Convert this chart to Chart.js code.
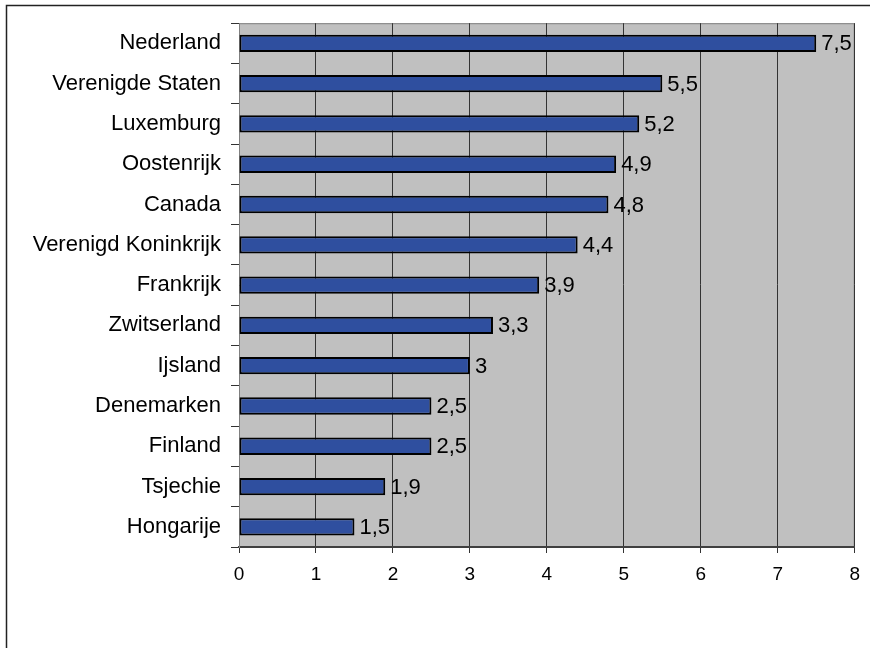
<!DOCTYPE html>
<html>
<head>
<meta charset="utf-8">
<script src="https://cdn.jsdelivr.net/npm/chart.js@4/dist/chart.umd.min.js"></script>
<style>
  html, body { margin: 0; padding: 0; background: #ffffff; }
  #wrap { width: 870px; height: 648px; }
</style>
</head>
<body>
<div id="wrap"><canvas id="c" width="870" height="648"></canvas></div>
<script>
const countries = ["Nederland", "Verenigde Staten", "Luxemburg", "Oostenrijk", "Canada",
  "Verenigd Koninkrijk", "Frankrijk", "Zwitserland", "Ijsland", "Denemarken",
  "Finland", "Tsjechie", "Hongarije"];
const values = [7.5, 5.5, 5.2, 4.9, 4.8, 4.4, 3.9, 3.3, 3, 2.5, 2.5, 1.9, 1.5];
const xTicks = [0, 1, 2, 3, 4, 5, 6, 7, 8];

const FONT = "'Liberation Sans', Arial, sans-serif";

// Grey plot background, outer frame and value labels
const decor = {
  id: 'decor',
  beforeDraw(chart) {
    const { ctx, chartArea: a } = chart;
    ctx.save();
    ctx.fillStyle = '#ffffff';
    ctx.fillRect(0, 0, chart.width, chart.height);
    ctx.fillStyle = '#c0c0c0';
    ctx.fillRect(a.left, a.top, a.right - a.left, a.bottom - a.top);
    ctx.strokeStyle = '#808080';
    ctx.lineWidth = 1;
    ctx.strokeRect(a.left + 0.5, a.top + 0.5, a.right - a.left - 1, a.bottom - a.top);
    // outer frame
    ctx.strokeStyle = '#222222';
    ctx.lineWidth = 1.5;
    ctx.strokeRect(6.5, 5.5, 900, 700);
    ctx.restore();
  },
  afterDatasetsDraw(chart) {
    const { ctx } = chart;
    const meta = chart.getDatasetMeta(0);
    ctx.save();
    ctx.font = '22px ' + FONT;
    ctx.fillStyle = '#000000';
    ctx.textAlign = 'left';
    ctx.textBaseline = 'middle';
    meta.data.forEach((bar, i) => {
      const label = String(values[i]).replace('.', ',');
      ctx.fillText(label, bar.x + 5, bar.y + 1);
    });
    ctx.restore();
  }
};

new Chart(document.getElementById('c'), {
  type: 'bar',
  data: {
    labels: countries,
    datasets: [{
      data: values,
      backgroundColor: '#2f4f9f',
      borderColor: '#000000',
      borderWidth: 2,
      borderSkipped: false,
      barPercentage: 0.86,
      categoryPercentage: 0.5
    }]
  },
  options: {
    indexAxis: 'y',
    responsive: false,
    animation: false,
    devicePixelRatio: 1,
    layout: { padding: { top: 23, right: 14, left: 0, bottom: 0 } },
    plugins: { legend: { display: false }, tooltip: { enabled: false } },
    scales: {
      x: {
        min: 0, max: 8,
        afterFit(s) { s.height = 101; },
        afterBuildTicks(s) { s.ticks = xTicks.map(v => ({ value: v })); },
        ticks: { color: '#000000', font: { family: FONT, size: 19 }, padding: 10, maxRotation: 0 },
        grid: { color: '#333333', lineWidth: 1, tickLength: 6, drawTicks: true },
        border: { color: '#404040', width: 2 }
      },
      y: {
        afterFit(s) { s.width = 239; },
        ticks: { color: '#000000', font: { family: FONT, size: 22 }, padding: 10, autoSkip: false },
        grid: { offset: true, drawOnChartArea: false, drawTicks: true, tickLength: 8, color: '#333333', lineWidth: 1 },
        border: { color: '#808080', width: 1 }
      }
    }
  },
  plugins: [decor]
});
</script>
</body>
</html>
